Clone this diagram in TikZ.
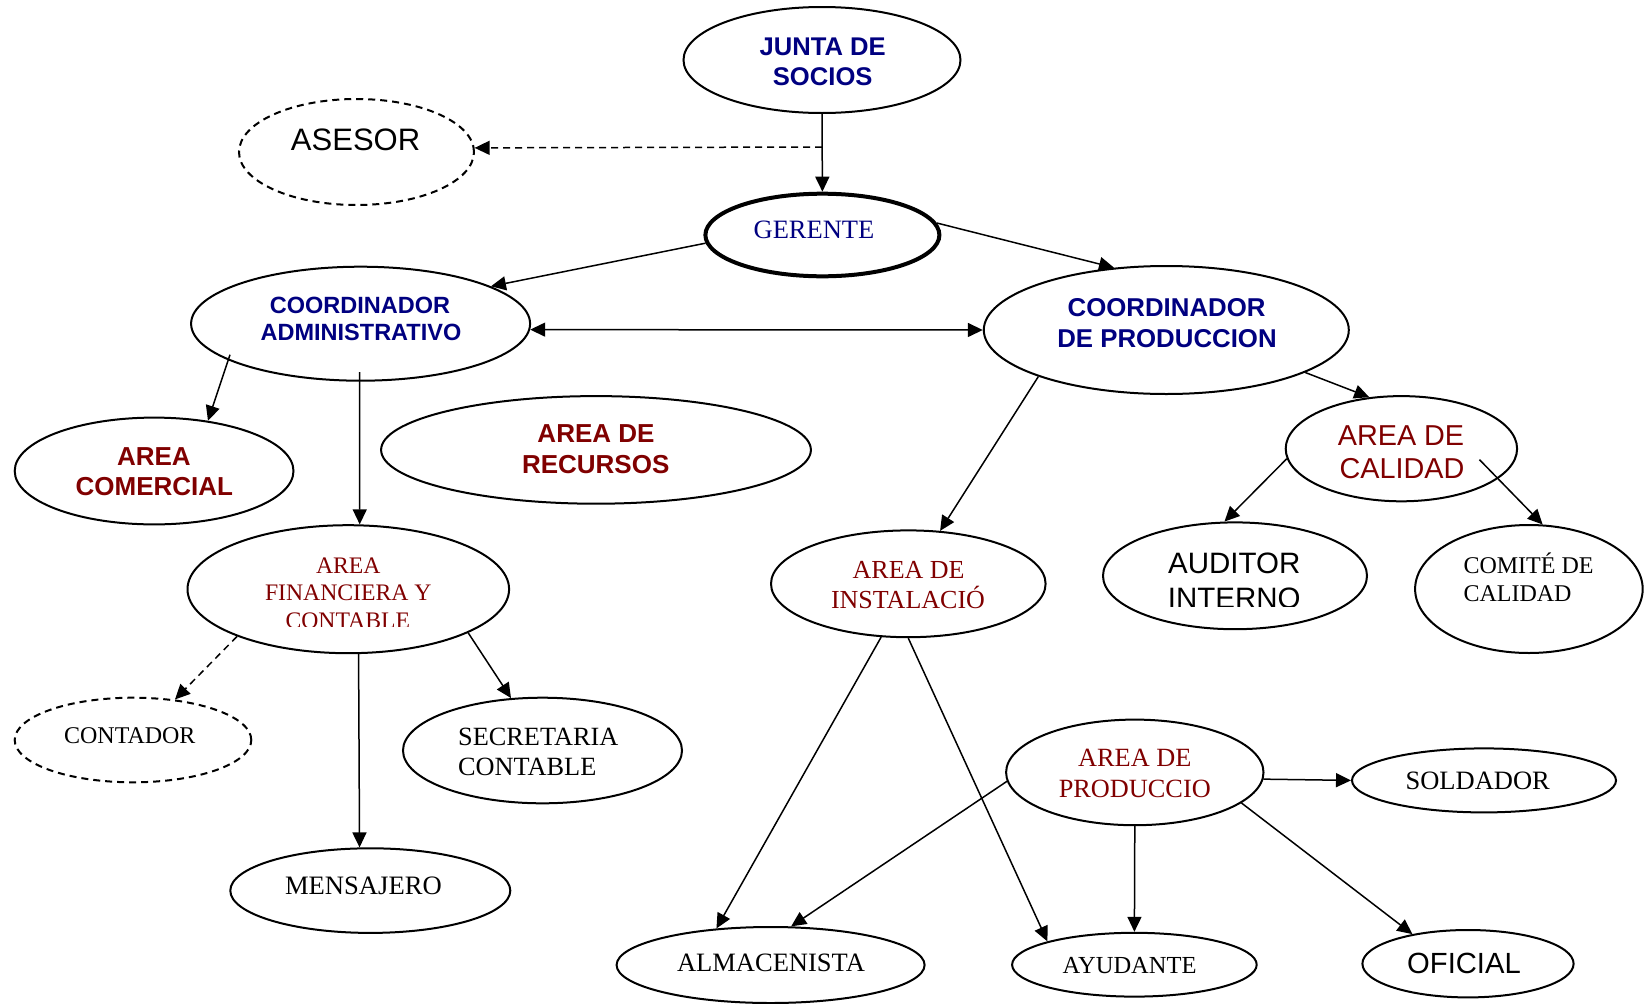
\documentclass[tikz,border=0pt]{standalone}
\usepackage{fontspec}
\setmainfont{Liberation Serif}
\setsansfont{Liberation Sans}
\usetikzlibrary{arrows.meta,shapes.geometric}
\definecolor{navyblue}{HTML}{000080}
\definecolor{maroonred}{HTML}{800000}

\begin{document}
\begin{tikzpicture}[x=1pt,y=-1pt,
  >={Triangle[length=15pt,width=14pt]},
  oval/.style={ellipse,draw,line width=2pt,inner sep=0pt},
  ovaldash/.style={oval,dash pattern=on 7pt off 5pt},
  link/.style={line width=1.5pt,->},
  dashlink/.style={link,dash pattern=on 7pt off 5pt},
  word/.style={inner sep=0pt,anchor=base},
  sansbold/.style={word,font=\sffamily\bfseries\fontsize{#1}{#1}\selectfont},
  sansreg/.style={word,font=\sffamily\fontsize{#1}{#1}\selectfont},
  serifreg/.style={word,font=\rmfamily\fontsize{#1}{#1}\selectfont},
]
\useasboundingbox (0,0) rectangle (1644,1004);

% ---------- ovals ----------
\node[oval,minimum width=277pt,minimum height=106pt] (junta) at (822,60) {};
\node[ovaldash,minimum width=235pt,minimum height=106pt] (asesor) at (356.5,152) {};
\node[oval,line width=4pt,minimum width=234pt,minimum height=82.6pt] (gerente) at (822.4,235) {};
\node[oval,minimum width=339pt,minimum height=114pt] (admin) at (360.6,323.7) {};
\node[oval,minimum width=365pt,minimum height=128pt] (prod) at (1166.3,330) {};
\node[oval,minimum width=278.8pt,minimum height=106.8pt] (comercial) at (154.1,471) {};
\node[oval,minimum width=429.8pt,minimum height=107.6pt] (recursos) at (596,449.9) {};
\node[oval,minimum width=321.6pt,minimum height=128pt] (financiera) at (348.3,589.2) {};
\node[ovaldash,minimum width=236.6pt,minimum height=84.6pt] (contador) at (133,740) {};
\node[oval,minimum width=279pt,minimum height=105.6pt] (secretaria) at (542.5,750.5) {};
\node[oval,minimum width=280pt,minimum height=84.6pt] (mensajero) at (370.3,890.6) {};
\node[oval,minimum width=308pt,minimum height=76pt] (almacenista) at (770.6,965) {};
\node[oval,minimum width=274.6pt,minimum height=106.8pt] (instalacion) at (908.3,583.8) {};
\node[oval,minimum width=231.4pt,minimum height=105.2pt] (calidad) at (1401.4,448.7) {};
\node[oval,minimum width=264pt,minimum height=106.8pt] (auditor) at (1235,575.8) {};
\node[oval,minimum width=227.6pt,minimum height=128pt] (comite) at (1528.9,589) {};
\node[oval,minimum width=257.4pt,minimum height=105.6pt] (produccion) at (1134.8,772.4) {};
\node[oval,minimum width=264pt,minimum height=64pt] (soldador) at (1484,780.4) {};
\node[oval,minimum width=244.6pt,minimum height=63.8pt] (ayudante) at (1134.4,964.7) {};
\node[oval,minimum width=211.2pt,minimum height=67.4pt] (oficial) at (1468,963.7) {};

% ---------- labels ----------
\node[sansbold=25.6,text=navyblue] (juntaA) at (822.7,55) {JUNTA DE};
\node[sansbold=25.6,text=navyblue] (juntaB) at (822.7,85) {SOCIOS};
\node[sansreg=31] (asesorT) at (355.6,150.7) {ASESOR};
\node[serifreg=26.5,text=navyblue] (gerenteT) at (814,238.3) {GERENTE};
\node[sansbold=23.5,text=navyblue] (adminA) at (360,313.3) {COORDINADOR};
\node[sansbold=23.5,text=navyblue] (adminB) at (361,340) {ADMINISTRATIVO};
\node[sansbold=25.8,text=navyblue] (prodA) at (1166.6,316.7) {COORDINADOR};
\node[sansbold=25.8,text=navyblue] (prodB) at (1167,347) {DE PRODUCCION};
\node[sansbold=26,text=maroonred] (comerA) at (153.9,465) {AREA};
\node[sansbold=26,text=maroonred] (comerB) at (154.4,495.5) {COMERCIAL};
\node[sansbold=26,text=maroonred] (recA) at (596,442.5) {AREA DE};
\node[sansbold=26,text=maroonred] (recB) at (595.7,473.6) {RECURSOS};
\node[serifreg=23.7,text=maroonred] (finA) at (348.3,573) {AREA};
\node[serifreg=23.7,text=maroonred] (finB) at (348.3,600) {FINANCIERA Y};
\begin{scope}
  \clip (200,600) rectangle (500,626.6);
  \node[serifreg=23.7,text=maroonred] (finC) at (347.8,628.4) {CONTABLE};
\end{scope}
\node[serifreg=24] (contT) at (129.8,743.3) {CONTADOR};
\node[serifreg=26.3,anchor=base west] (secA) at (458,745.3) {SECRETARIA};
\node[serifreg=26.3,anchor=base west] (secB) at (458,775.6) {CONTABLE};
\node[serifreg=26.6] (mensT) at (363.4,894) {MENSAJERO};
\node[serifreg=26.5] (almT) at (771,971.6) {ALMACENISTA};
\node[serifreg=26,text=maroonred] (instA) at (908.6,578) {AREA DE};
\node[serifreg=26,text=maroonred] (instB) at (908,608) {INSTALACIÓ};
\node[sansreg=28.8,text=maroonred] (calA) at (1401,445.7) {AREA DE};
\node[sansreg=28.8,text=maroonred] (calB) at (1402,478.4) {CALIDAD};
\node[sansreg=29.5] (audA) at (1234.3,573) {AUDITOR};
\begin{scope}
  \clip (1100,575) rectangle (1370,606.6);
  \node[sansreg=29.5] (audB) at (1234.2,608) {INTERNO};
\end{scope}
\node[serifreg=24,anchor=base west] (comitA) at (1463.3,573) {COMITÉ DE};
\node[serifreg=24,anchor=base west] (comitB) at (1463.3,601) {CALIDAD};
\node[serifreg=26.3,text=maroonred] (proA) at (1134.8,766.5) {AREA DE};
\node[serifreg=26.3,text=maroonred] (proB) at (1134.8,797.5) {PRODUCCIO};
\node[serifreg=26.5] (soldT) at (1477.7,789.6) {SOLDADOR};
\node[serifreg=24.5] (ayudT) at (1129.6,973.6) {AYUDANTE};
\node[sansreg=29.2] (ofT) at (1464,973.6) {OFICIAL};

% ---------- connectors ----------
\coordinate (split) at (822,147);
\draw[link] (junta.south) -- (gerente.north);
\draw[dashlink] (split) -- (asesor.2.4);
\draw[link] (gerente.184.8) -- (admin.16.6);
\draw[link] (gerente.6) -- (prod.130.5);
\draw[link,<->] (admin.-2.1) -- (prod.west);
\draw[link] ([shift={(-130.6,31)}]admin.center) -- (comercial.43.4);
\draw[link] ([shift={(-1,48.5)}]admin.center) -- (financiera.80.2);
\draw[dashlink] (financiera.203.5) -- (contador.44.2);
\draw[link] (financiera.-20.2) -- (secretaria.121.9);
\draw[link] (financiera.279.6) -- (mensajero.104);
\draw[link] (prod.200) -- (instalacion.59.8);
\draw[link] (prod.-17) -- (calidad.122.8);
\draw[link] (calidad.185.4) -- (auditor.101.7);
\draw[link] ([shift={(78.1,11)}]calidad.center) -- (comite.78.5);
\draw[link] (instalacion.243.7) -- (almacenista.146.5);
\draw[link] (instalacion.south) -- (ayudante.165.5);
\draw[link] (produccion.184.7) -- (almacenista.62.9);
\draw[link] (produccion.south) -- (ayudante.north);
\draw[link] (produccion.-3.2) -- (soldador.west);
\draw[link] (produccion.-16.5) -- (oficial.152.1);
\end{tikzpicture}
\end{document}
